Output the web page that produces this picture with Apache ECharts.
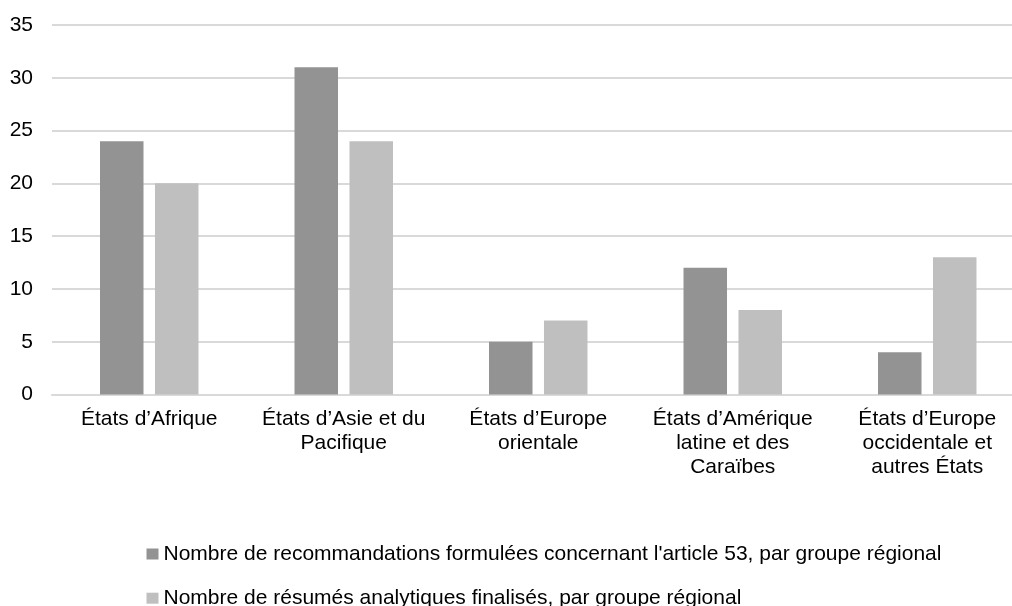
<!DOCTYPE html>
<html>
<head>
<meta charset="utf-8">
<script src="https://cdn.jsdelivr.net/npm/echarts@6/dist/echarts.min.js"></script>
<style>
  html, body { margin: 0; padding: 0; background: #fff; overflow: hidden; }
  #chart { width: 1030px; height: 606px; }
</style>
</head>
<body>
<div id="chart"></div>
<script>
// Regional groups on the category axis
const categories = [
  "États d’Afrique",
  "États d’Asie et du\nPacifique",
  "États d’Europe\norientale",
  "États d’Amérique\nlatine et des\nCaraïbes",
  "États d’Europe\noccidentale et\nautres États"
];

// Series names
const seriesRecoName = "Nombre de recommandations formulées concernant l'article 53, par groupe régional";
const seriesResumeName = "Nombre de résumés analytiques finalisés, par groupe régional";

// Values per regional group
const recommandations = [24, 31, 5, 12, 4];
const resumes = [20, 24, 7, 8, 13];

// Value axis range
const yMin = 0;
const yMax = 35;
const yStep = 5;

const fontFamily = "Liberation Sans, Arial, sans-serif";
const darkGrey = "#939393";
const lightGrey = "#bfbfbf";

const chart = echarts.init(document.getElementById("chart"), null, { renderer: "canvas" });

const legendText = { color: "#000", fontSize: 21, fontFamily: fontFamily };

chart.setOption({
  animation: false,
  backgroundColor: "#ffffff",
  textStyle: { fontFamily: fontFamily },
  grid: {
    left: 52,
    right: 5.5,
    top: 25,
    bottom: 211.5,
    containLabel: false
  },
  xAxis: {
    type: "category",
    data: categories,
    axisLine: { show: true, lineStyle: { color: "#d9d9d9", width: 2 } },
    axisTick: { show: false },
    axisLabel: {
      interval: 0,
      color: "#000",
      fontSize: 21,
      lineHeight: 24,
      margin: 13,
      fontFamily: fontFamily
    }
  },
  yAxis: {
    type: "value",
    min: yMin,
    max: yMax,
    interval: yStep,
    axisLine: { show: false },
    axisTick: { show: false },
    splitLine: { lineStyle: { color: "#d9d9d9", width: 2 } },
    axisLabel: {
      color: "#000",
      fontSize: 21,
      margin: 19,
      fontFamily: fontFamily
    }
  },
  legend: [
    {
      left: 141.5,
      top: 538.5,
      itemWidth: 12,
      itemHeight: 11,
      icon: "rect",
      textStyle: legendText,
      data: [seriesRecoName]
    },
    {
      left: 141.5,
      top: 582.7,
      itemWidth: 12,
      itemHeight: 11,
      icon: "rect",
      textStyle: legendText,
      data: [seriesResumeName]
    }
  ],
  series: [
    {
      name: seriesRecoName,
      type: "bar",
      data: recommandations,
      barWidth: 43.5,
      barGap: "26.4%",
      itemStyle: { color: darkGrey }
    },
    {
      name: seriesResumeName,
      type: "bar",
      data: resumes,
      barWidth: 43.5,
      barGap: "26.4%",
      itemStyle: { color: lightGrey }
    }
  ]
});
</script>
</body>
</html>
